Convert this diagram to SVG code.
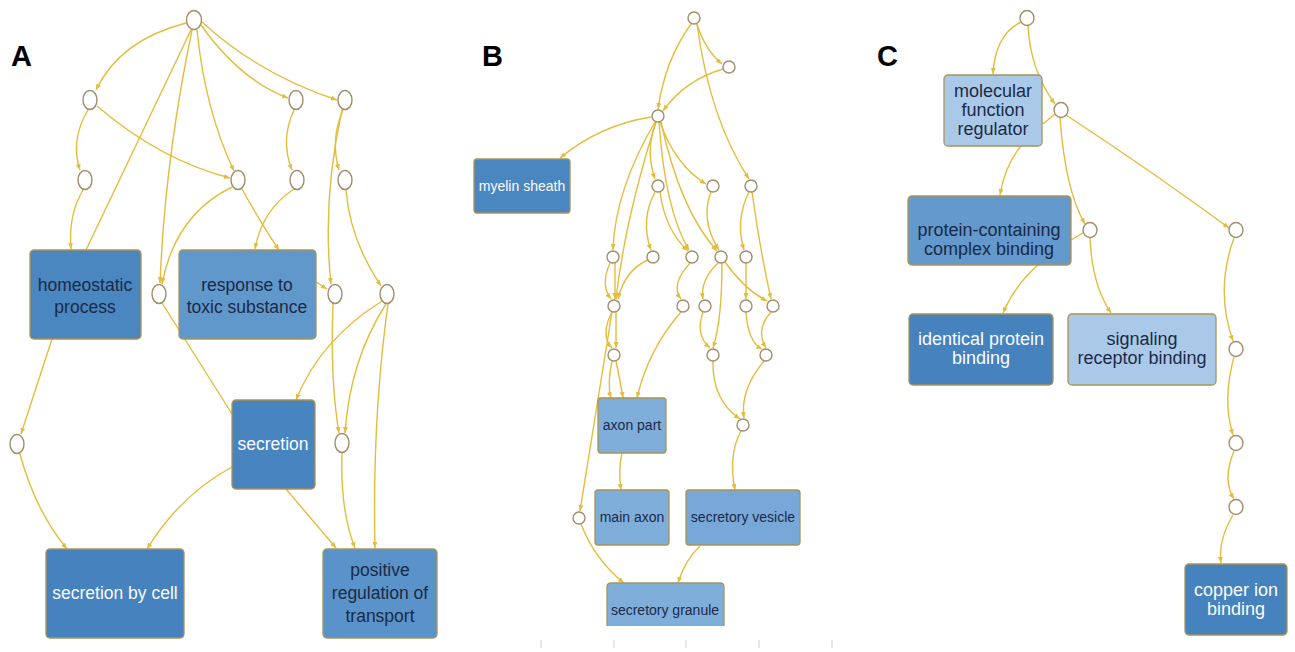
<svg xmlns="http://www.w3.org/2000/svg" width="1295" height="652" viewBox="0 0 1295 652">
<style>
.e{fill:none;stroke:#e3bd3c;stroke-width:1.4}
.a{marker-end:url(#ar)}
.n{fill:#fff;stroke:#a08e6c;stroke-width:1.4}
.b{stroke:#a89456;stroke-width:1.3}
.d{fill:#1a2a47}
.w{fill:#fafcff}
.tA{font-family:"Liberation Sans",Arial,sans-serif;font-size:17.5px;text-anchor:middle}
.tB{font-family:"Liberation Sans",Arial,sans-serif;font-size:14px;text-anchor:middle}
.tC{font-family:"Liberation Sans",Arial,sans-serif;font-size:18px;text-anchor:middle}
.lbl{font-family:"Liberation Sans",Arial,sans-serif;font-size:29px;font-weight:bold;fill:#000}
.tick{stroke:#cfcfcf;stroke-width:1}
</style>
<defs>
<marker id="ar" markerUnits="userSpaceOnUse" markerWidth="7" markerHeight="7" viewBox="0 0 7 7" refX="6" refY="3.5" orient="auto">
<path d="M0,1 L6,3.5 L0,6 z" fill="#e3bd3c"/>
</marker>
</defs>
<rect width="1295" height="652" fill="#fff"/>
<text class="lbl" x="11" y="66">A</text>
<text class="lbl" x="482" y="66">B</text>
<text class="lbl" x="877" y="66">C</text>
<g id="ticks">
<line class="tick" x1="541" y1="640" x2="541" y2="648"/>
<line class="tick" x1="614" y1="640" x2="614" y2="648"/>
<line class="tick" x1="686" y1="640" x2="686" y2="648"/>
<line class="tick" x1="759" y1="640" x2="759" y2="648"/>
<line class="tick" x1="832" y1="640" x2="832" y2="648"/>
</g>
<g id="connectors">
<!-- A -->
<path class="e a" d="M186,23 Q120,40 96,90"/>
<path class="e" d="M191,30 L86,250"/>
<path class="e a" d="M192,30 Q165,160 160,283"/>
<path class="e a" d="M197,30 Q205,110 234,171"/>
<path class="e a" d="M201,25 Q240,80 288,98"/>
<path class="e a" d="M202,22 Q260,75 337,100"/>
<path class="e a" d="M88,110 Q70,140 80,170"/>
<path class="e a" d="M97,106 Q160,160 230,178"/>
<path class="e a" d="M294,110 Q280,140 292,170"/>
<path class="e a" d="M343,110 Q330,140 339,170"/>
<path class="e a" d="M342,110 Q322,200 331,284"/>
<path class="e a" d="M346,190 Q350,240 381,286"/>
<path class="e a" d="M83,190 Q68,215 71,249"/>
<path class="e a" d="M242,189 Q262,225 279,250"/>
<path class="e a" d="M294,189 Q262,210 255,249"/>
<path class="e a" d="M232,187 Q175,215 162,284"/>
<path class="e" d="M162,303 L232,414"/>
<path class="e a" d="M316,282 L327,289"/>
<path class="e a" d="M382,301 Q320,340 296,400"/>
<path class="e a" d="M386,304 Q350,360 345,433"/>
<path class="e a" d="M333,304 Q330,380 339,433"/>
<path class="e a" d="M388,304 Q372,420 375,548"/>
<path class="e a" d="M342,453 Q340,510 355,548"/>
<path class="e a" d="M286,489 L336,548"/>
<path class="e a" d="M52,339 L21,434"/>
<path class="e a" d="M20,454 Q35,510 67,549"/>
<path class="e a" d="M232,467 Q180,495 147,549"/>
<!-- B -->
<path class="e a" d="M691,24 Q665,60 658,109"/>
<path class="e a" d="M697,24 Q705,50 722,64"/>
<path class="e a" d="M697,24 Q710,120 749,179"/>
<path class="e a" d="M723,69 Q685,80 663,111"/>
<path class="e a" d="M651,117 Q600,125 560,158"/>
<path class="e a" d="M656,122 Q645,150 655,179"/>
<path class="e a" d="M660,122 Q675,165 706,184"/>
<path class="e a" d="M655,122 Q615,190 613,250"/>
<path class="e a" d="M656,122 Q625,220 616,299"/>
<path class="e a" d="M659,122 Q665,210 689,250"/>
<path class="e a" d="M661,122 Q680,210 717,251"/>
<path class="e a" d="M655,192 Q640,220 651,250"/>
<path class="e a" d="M660,192 Q665,230 688,251"/>
<path class="e a" d="M711,192 Q700,220 719,250"/>
<path class="e a" d="M749,192 Q735,220 744,250"/>
<path class="e a" d="M752,192 Q760,250 771,299"/>
<path class="e a" d="M610,263 Q600,285 611,299"/>
<path class="e a" d="M615,263 L615,299"/>
<path class="e a" d="M648,260 Q625,270 618,299"/>
<path class="e a" d="M690,263 Q670,285 681,299"/>
<path class="e a" d="M718,263 Q700,280 703,299"/>
<path class="e a" d="M722,263 Q722,320 713,348"/>
<path class="e a" d="M725,262 Q745,290 767,301"/>
<path class="e a" d="M746,263 L746,299"/>
<path class="e a" d="M612,312 Q600,335 612,348"/>
<path class="e a" d="M616,312 L616,348"/>
<path class="e a" d="M612,312 L580,511"/>
<path class="e a" d="M703,312 Q695,335 710,348"/>
<path class="e a" d="M746,312 Q748,342 762,349"/>
<path class="e a" d="M771,312 Q755,330 766,348"/>
<path class="e a" d="M612,361 Q607,385 611,398"/>
<path class="e a" d="M616,361 Q620,380 623,398"/>
<path class="e a" d="M681,312 Q648,350 637,398"/>
<path class="e a" d="M713,361 Q712,400 740,419"/>
<path class="e a" d="M764,361 Q740,390 744,418"/>
<path class="e a" d="M741,431 Q728,455 735,490"/>
<path class="e a" d="M622,453 Q618,470 621,490"/>
<path class="e a" d="M581,524 Q595,560 624,583"/>
<path class="e a" d="M700,546 Q685,560 678,583"/>
<!-- C -->
<path class="e a" d="M1021,22 Q995,35 993,74"/>
<path class="e a" d="M1028,25 Q1030,70 1055,104"/>
<path class="e" d="M1055,114 L1043,124"/>
<path class="e a" d="M1021,146 Q1005,165 1000,195"/>
<path class="e a" d="M1060,117 Q1065,190 1085,224"/>
<path class="e a" d="M1066,115 Q1150,170 1229,228"/>
<path class="e" d="M1083,233 L1071,240"/>
<path class="e a" d="M1038,265 Q1015,285 1003,313"/>
<path class="e a" d="M1090,238 Q1092,285 1111,313"/>
<path class="e a" d="M1234,238 Q1215,290 1233,341"/>
<path class="e a" d="M1234,357 Q1222,400 1233,435"/>
<path class="e a" d="M1234,451 Q1222,480 1234,499"/>
<path class="e a" d="M1233,515 Q1218,540 1221,563"/>
</g>
<!-- Panel A nodes -->
<g id="A_T"><ellipse class="n" cx="194" cy="20" rx="7.5" ry="9.5"/></g>
<g id="A_a1"><ellipse class="n" cx="90" cy="100" rx="7" ry="9.5"/></g>
<g id="A_a2"><ellipse class="n" cx="296" cy="100" rx="7" ry="9.5"/></g>
<g id="A_a3"><ellipse class="n" cx="345" cy="100" rx="7" ry="9.5"/></g>
<g id="A_a4"><ellipse class="n" cx="85" cy="180" rx="7" ry="9.5"/></g>
<g id="A_a5"><ellipse class="n" cx="238" cy="180" rx="7" ry="9.5"/></g>
<g id="A_a6"><ellipse class="n" cx="297" cy="180" rx="7" ry="9.5"/></g>
<g id="A_a7"><ellipse class="n" cx="345" cy="180" rx="7" ry="9.5"/></g>
<g id="A_a8"><ellipse class="n" cx="159" cy="294" rx="7" ry="9.5"/></g>
<g id="A_a9"><ellipse class="n" cx="335" cy="294" rx="7" ry="9.5"/></g>
<g id="A_a10"><ellipse class="n" cx="387" cy="294" rx="7" ry="9.5"/></g>
<g id="A_a11"><ellipse class="n" cx="17" cy="444" rx="7" ry="9.5"/></g>
<g id="A_a12"><ellipse class="n" cx="342" cy="443" rx="7" ry="9.5"/></g>
<g id="A_homeostatic"><rect class="b" x="30" y="250" width="111" height="89" rx="4" fill="#4a86c0"/>
<text class="tA d" x="85" y="291">homeostatic</text><text class="tA d" x="85" y="313">process</text></g>
<g id="A_response"><rect class="b" x="179" y="250" width="137" height="89" rx="4" fill="#6098cc"/>
<text class="tA d" x="247" y="291">response to</text><text class="tA d" x="247" y="313">toxic substance</text></g>
<g id="A_secretion"><rect class="b" x="232" y="400" width="83" height="89" rx="4" fill="#4884c0"/>
<text class="tA w" x="273" y="450">secretion</text></g>
<g id="A_secretion_cell"><rect class="b" x="46" y="549" width="138" height="89" rx="4" fill="#4582be"/>
<text class="tA w" x="115" y="599">secretion by cell</text></g>
<g id="A_positive"><rect class="b" x="323" y="549" width="114" height="89" rx="4" fill="#5a93c9"/>
<text class="tA d" x="380" y="576">positive</text><text class="tA d" x="380" y="599">regulation of</text><text class="tA d" x="380" y="622">transport</text></g>
<!-- Panel B nodes -->
<g id="B_b0"><circle class="n" cx="694" cy="18" r="6"/></g>
<g id="B_b1"><circle class="n" cx="729" cy="67" r="6"/></g>
<g id="B_b2"><circle class="n" cx="658" cy="116" r="6"/></g>
<g id="B_b3"><circle class="n" cx="658" cy="186" r="6"/></g>
<g id="B_b4"><circle class="n" cx="713" cy="186" r="6"/></g>
<g id="B_b5"><circle class="n" cx="751" cy="186" r="6"/></g>
<g id="B_b6"><circle class="n" cx="613" cy="257" r="6"/></g>
<g id="B_b7"><circle class="n" cx="653" cy="257" r="6"/></g>
<g id="B_b8"><circle class="n" cx="692" cy="257" r="6"/></g>
<g id="B_b9"><circle class="n" cx="721" cy="257" r="6"/></g>
<g id="B_b10"><circle class="n" cx="746" cy="257" r="6"/></g>
<g id="B_b11"><circle class="n" cx="614" cy="306" r="6"/></g>
<g id="B_b12"><circle class="n" cx="683" cy="306" r="6"/></g>
<g id="B_b13"><circle class="n" cx="705" cy="306" r="6"/></g>
<g id="B_b14"><circle class="n" cx="746" cy="306" r="6"/></g>
<g id="B_b15"><circle class="n" cx="773" cy="306" r="6"/></g>
<g id="B_b16"><circle class="n" cx="614" cy="355" r="6"/></g>
<g id="B_b17"><circle class="n" cx="713" cy="355" r="6"/></g>
<g id="B_b18"><circle class="n" cx="766" cy="355" r="6"/></g>
<g id="B_b19"><circle class="n" cx="743" cy="425" r="6"/></g>
<g id="B_b20"><circle class="n" cx="579" cy="518" r="6"/></g>
<g id="B_myelin"><rect class="b" x="474" y="159" width="96" height="54" rx="3" fill="#4a86c0"/>
<text class="tB w" x="522" y="191">myelin sheath</text></g>
<g id="B_axon_part"><rect class="b" x="598" y="398" width="68" height="55" rx="3" fill="#80aedb"/>
<text class="tB d" x="632" y="430">axon part</text></g>
<g id="B_main_axon"><rect class="b" x="595" y="490" width="74" height="55" rx="3" fill="#80aedb"/>
<text class="tB d" x="632" y="522">main axon</text></g>
<g id="B_vesicle"><rect class="b" x="686" y="490" width="114" height="55" rx="3" fill="#78a8d7"/>
<text class="tB d" x="743" y="522">secretory vesicle</text></g>
<g id="B_granule"><path class="b" d="M607,626 L607,587 Q607,583 611,583 L720,583 Q724,583 724,587 L724,626" fill="#80aedb"/>
<text class="tB d" x="665" y="615">secretory granule</text></g>
<!-- Panel C nodes -->
<g id="C_c0"><ellipse class="n" cx="1027" cy="18" rx="7" ry="7.5"/></g>
<g id="C_c1"><ellipse class="n" cx="1061" cy="110" rx="7" ry="7.5"/></g>
<g id="C_c2"><ellipse class="n" cx="1090" cy="230" rx="7" ry="7.5"/></g>
<g id="C_c3"><ellipse class="n" cx="1236" cy="230" rx="7" ry="7.5"/></g>
<g id="C_c4"><ellipse class="n" cx="1236" cy="349" rx="7" ry="7.5"/></g>
<g id="C_c5"><ellipse class="n" cx="1236" cy="443" rx="7" ry="7.5"/></g>
<g id="C_c6"><ellipse class="n" cx="1236" cy="507" rx="7" ry="7.5"/></g>
<g id="C_molecular"><rect class="b" x="944" y="75" width="98" height="71" rx="4" fill="#aac9e9"/>
<text class="tC d" x="993" y="97">molecular</text><text class="tC d" x="993" y="116">function</text><text class="tC d" x="993" y="135">regulator</text></g>
<g id="C_protein"><rect class="b" x="908" y="196" width="163" height="69" rx="4" fill="#6399cc"/>
<text class="tC d" x="989" y="236">protein-containing</text><text class="tC d" x="989" y="255">complex binding</text></g>
<g id="C_identical"><rect class="b" x="909" y="314" width="144" height="71" rx="4" fill="#4582be"/>
<text class="tC w" x="981" y="345">identical protein</text><text class="tC w" x="981" y="364">binding</text></g>
<g id="C_signaling"><rect class="b" x="1068" y="314" width="148" height="71" rx="4" fill="#aac9e9"/>
<text class="tC d" x="1142" y="345">signaling</text><text class="tC d" x="1142" y="364">receptor binding</text></g>
<g id="C_copper"><rect class="b" x="1185" y="564" width="102" height="71" rx="4" fill="#4582be"/>
<text class="tC w" x="1236" y="596">copper ion</text><text class="tC w" x="1236" y="615">binding</text></g>
</svg>
